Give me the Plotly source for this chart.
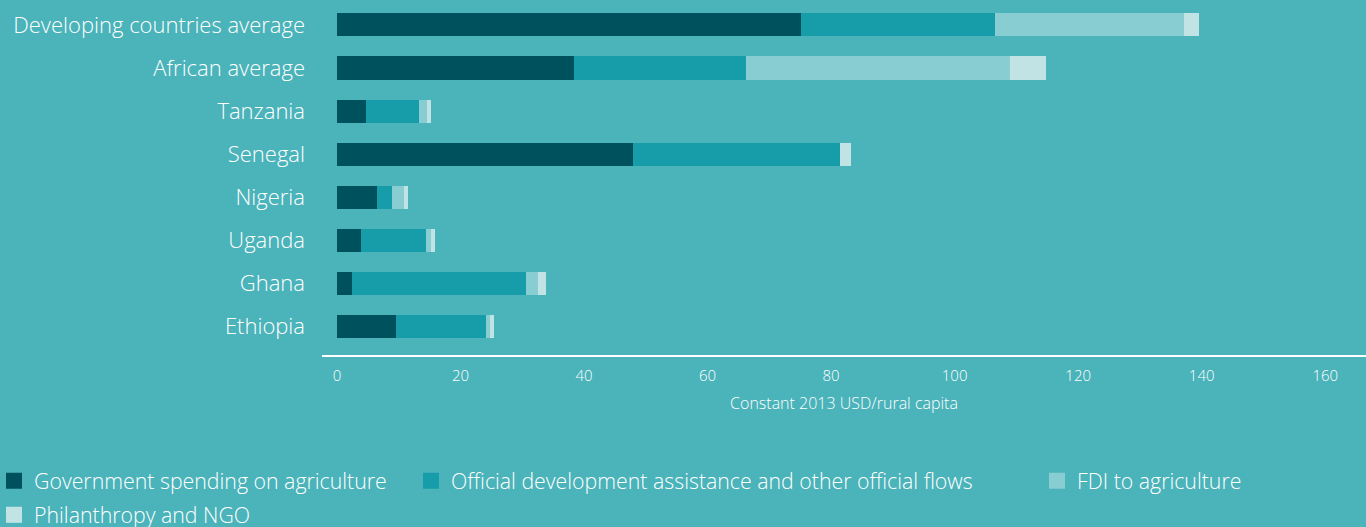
import plotly.graph_objects as go

categories = ["Ethiopia", "Ghana", "Uganda", "Nigeria", "Senegal", "Tanzania",
              "African average", "Developing countries average"]
gov = [9.6, 2.4, 3.9, 6.5, 47.9, 4.7, 38.4, 75.1]
oda = [14.5, 28.2, 10.5, 2.4, 33.6, 8.6, 27.8, 31.5]
fdi = [0.7, 2.0, 0.8, 2.0, 0.0, 1.3, 42.8, 30.6]
phil = [0.6, 1.2, 0.7, 0.6, 1.7, 0.6, 5.8, 2.4]

series_names = ["Government spending on agriculture",
                "Official development assistance and other official flows",
                "FDI to agriculture",
                "Philanthropy and NGO"]
series_vals = [gov, oda, fdi, phil]
colors = ["#00515E", "#179DAA", "#87CDD2", "#C1E3E4"]
x_ticks = [0, 20, 40, 60, 80, 100, 120, 140, 160]

BG = "#4BB3BA"
FONT = "Open Sans"

fig = go.Figure()
legends = ["legend", "legend2", "legend3", "legend4"]
for name, vals, col, lg in zip(series_names, series_vals, colors, legends):
    fig.add_trace(go.Bar(y=categories, x=vals, orientation="h", name=name,
                         marker=dict(color=col, line=dict(width=0)),
                         width=0.535, showlegend=False))
    fig.add_trace(go.Scatter(x=[None], y=[None], mode="markers", name=name,
                             marker=dict(symbol="square", size=16, color=col,
                                         line=dict(width=0)),
                             legend=lg, showlegend=True))

L, PW, PH = 322.0, 1044.0, 355.0

def lx(text_x):
    # legend box left so that the label starts at text_x
    return (text_x - 32 - L) / PW

def ly(y):
    return (PH - y) / PH

leg_common = dict(font=dict(family=FONT, size=21.3, color="white", weight=300),
                  bgcolor="rgba(0,0,0,0)", xanchor="left", yanchor="middle",
                  indentation=-8, itemwidth=30, tracegroupgap=0)
fig.update_layout(
    barmode="stack",
    width=1366, height=527,
    paper_bgcolor=BG, plot_bgcolor=BG,
    margin=dict(l=322, r=0, t=0, b=172, autoexpand=False),
    font=dict(family=FONT, color="white", weight=300),
    xaxis=dict(range=[-2.43, 166.6], tickvals=x_ticks, showgrid=False,
               automargin=False,
               zeroline=False, showline=True, linecolor="white", linewidth=1.5,
               ticks="", ticklabelstandoff=6,
               tickfont=dict(size=15, color="white", family=FONT, weight=300),
               title=dict(text="Constant 2013 USD/rural capita",
                          font=dict(size=16, color="white", family=FONT, weight=300),
                          standoff=14)),
    yaxis=dict(categoryorder="array", categoryarray=categories,
               automargin=False,
               range=[-0.67, 7.58], showgrid=False, zeroline=False,
               showline=False, ticks="", ticklabelstandoff=16,
               tickfont=dict(size=22, color="white", family=FONT, weight=300)),
    legend=dict(x=lx(34), y=ly(481), **leg_common),
    legend2=dict(x=lx(451), y=ly(481), **leg_common),
    legend3=dict(x=lx(1077), y=ly(481), **leg_common),
    legend4=dict(x=lx(34), y=ly(515), **leg_common),
)

fig.write_html("out.html")
